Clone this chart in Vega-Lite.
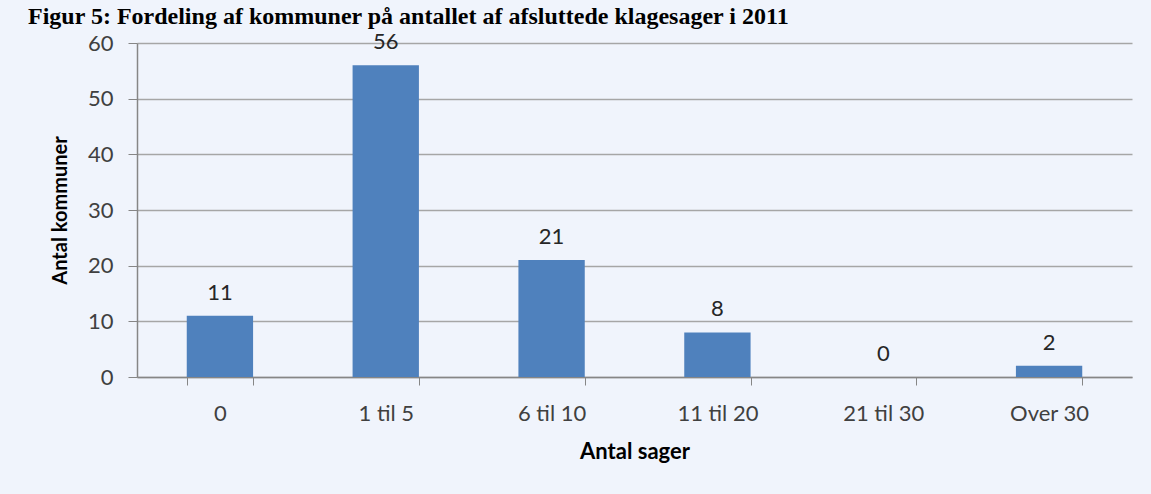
{
  "$schema": "https://vega.github.io/schema/vega-lite/v6.json",
  "width": 995,
  "height": 334,
  "autosize": {"type": "none"},
  "padding": {"left": 137, "top": 43, "right": 19, "bottom": 117},
  "background": "#f0f4fc",
  "title": {
    "text": "Figur 5: Fordeling af kommuner på antallet af afsluttede klagesager i 2011",
    "font": "Liberation Serif",
    "fontSize": 24,
    "fontWeight": "bold",
    "color": "#000000",
    "anchor": "start",
    "frame": "group",
    "baseline": "alphabetic",
    "offset": 0,
    "dx": -109,
    "dy": 17
  },
  "data": {
    "values": [
      {"kategori": "0", "antal": 11},
      {"kategori": "1 til 5", "antal": 56},
      {"kategori": "6 til 10", "antal": 21},
      {"kategori": "11 til 20", "antal": 8},
      {"kategori": "21 til 30", "antal": 0},
      {"kategori": "Over 30", "antal": 2}
    ]
  },
  "encoding": {
    "x": {
      "field": "kategori",
      "type": "nominal",
      "sort": null,
      "scale": {"paddingInner": 0.6, "paddingOuter": 0.3},
      "axis": {
        "title": "Antal sager",
        "labelAngle": 0,
        "tickBand": "extent",
        "tickSize": 8,
        "labelPadding": 18,
        "titlePadding": 17,
        "titleFontSize": 22
      }
    },
    "y": {
      "field": "antal",
      "type": "quantitative",
      "scale": {"domain": [0, 60]},
      "axis": {
        "title": "Antal kommuner",
        "values": [0, 10, 20, 30, 40, 50, 60],
        "tickSize": 9,
        "labelPadding": 15,
        "titlePadding": 17,
        "titleFontSize": 20
      }
    }
  },
  "layer": [
    {"mark": {"type": "bar", "color": "#4f81bd"}},
    {
      "mark": {"type": "text", "baseline": "alphabetic", "dy": -16, "font": "Lato", "fontSize": 22, "color": "#262626"},
      "encoding": {"text": {"field": "antal", "type": "quantitative"}}
    }
  ],
  "config": {
    "view": {"stroke": null},
    "axis": {
      "labelFont": "Lato",
      "labelFontSize": 22,
      "labelColor": "#404040",
      "titleFont": "Lato",
      "titleFontWeight": "bold",
      "titleColor": "#000000",
      "domainColor": "#868686",
      "tickColor": "#868686",
      "gridColor": "#a6a6a6",
      "gridWidth": 1.5,
      "domainWidth": 1.5
    },
    "axisX": {"grid": false},
    "axisY": {"domain": true}
  }
}
